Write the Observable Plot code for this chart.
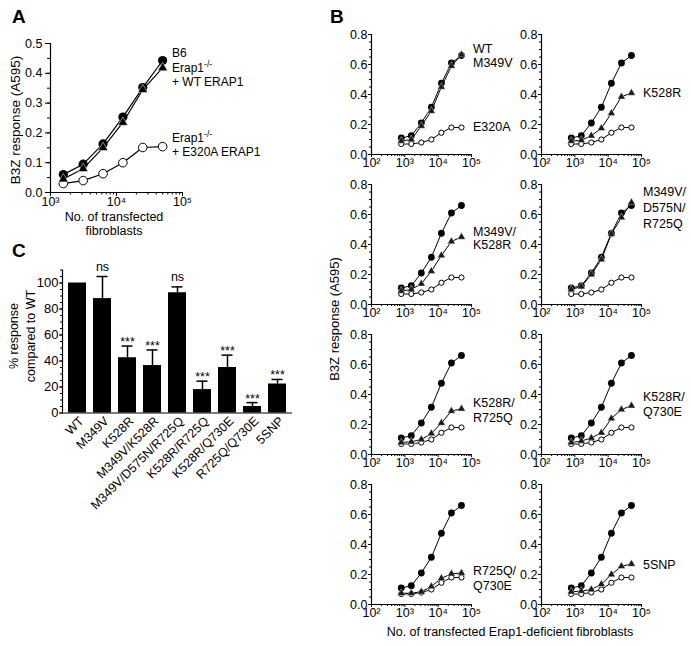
<!DOCTYPE html>
<html><head><meta charset="utf-8">
<script src="https://cdn.jsdelivr.net/npm/d3@7"></script>
<script src="https://cdn.jsdelivr.net/npm/@observablehq/plot@0.6"></script>
<style>
body{margin:0;background:#fff;}
#fig{position:relative;width:691px;height:646px;overflow:hidden;background:#fff;font-family:"Liberation Sans",Arial,Helvetica,sans-serif;}
#fig svg{overflow:visible;}
</style></head><body><div id="fig"></div>
<script>
// ---------- Panel A data ----------
const cellsA = [1563, 3125, 6250, 12500, 25000, 50000];
const b6A = [0.06, 0.095, 0.163, 0.253, 0.352, 0.443];
const wtErapA = [0.045, 0.08, 0.15, 0.235, 0.345, 0.418];
const e320aErapA = [0.03, 0.04, 0.063, 0.1, 0.151, 0.154];
const ticksAy = [0, 0.1, 0.2, 0.3, 0.4, 0.5];
const ticksAx = [1e3, 1e4, 1e5];

// ---------- Panel B data ----------
const cellsB = [781, 1563, 3125, 6250, 12500, 25000, 50000];
const wtB = [0.11, 0.125, 0.21, 0.315, 0.475, 0.61, 0.66];
const e320aB = [0.07, 0.07, 0.08, 0.10, 0.145, 0.18, 0.18];
const m349vB = [0.09, 0.10, 0.19, 0.29, 0.45, 0.59, 0.665];
const k528rB = [0.09, 0.095, 0.125, 0.175, 0.275, 0.385, 0.41];
const m349vK528rB = [0.09, 0.10, 0.138, 0.222, 0.327, 0.42, 0.45];
const m349vD575nR725qB = [0.10, 0.12, 0.20, 0.30, 0.47, 0.58, 0.68];
const k528rR725qB = [0.08, 0.085, 0.10, 0.14, 0.21, 0.29, 0.305];
const k528rQ730eB = [0.08, 0.09, 0.11, 0.145, 0.24, 0.30, 0.325];
const r725qQ730eB = [0.075, 0.075, 0.085, 0.12, 0.175, 0.205, 0.21];
const snp5B = [0.085, 0.09, 0.10, 0.135, 0.20, 0.255, 0.27];
const ticksBy = [0, 0.2, 0.4, 0.6, 0.8];
const ticksBx = [1e2, 1e3, 1e4, 1e5];

// ---------- Panel C data ----------
const mutants = ["WT", "M349V", "K528R", "M349V/K528R", "M349V/D575N/R725Q", "K528R/R725Q", "K528R/Q730E", "R725Q/Q730E", "5SNP"];
const pctResponse = [100, 88, 42.5, 36.5, 92.5, 18, 35, 5, 22.3];
const pctError = [0, 17, 9, 12, 4.5, 6.5, 9.5, 3, 3.5];
const significance = ["", "ns", "***", "***", "ns", "***", "***", "***", "***"];
const ticksCy = [0, 20, 40, 60, 80, 100];

// ---------- helpers ----------
const FONT = '"Liberation Sans", Arial, Helvetica, sans-serif';
const fig = document.getElementById("fig");
const supDigits = {"2": "\u00B2", "3": "\u00B3", "4": "\u2074", "5": "\u2075"};
const logFmt = d => "10" + supDigits[String(Math.round(Math.log10(d)))];
const blank = () => "";
function logMinor(lo, hi) { const t = []; for (let e = lo; e < hi; e++) for (let k = 2; k <= 9; k++) t.push(k * Math.pow(10, e)); return t; }
function linMinor(lo, hi, step) { const t = []; for (let v = lo; v <= hi + 1e-9; v += step) t.push(+v.toFixed(4)); return t; }
function place(el, left, top) { el.style.position = "absolute"; el.style.left = left + "px"; el.style.top = top + "px"; fig.appendChild(el); }
const baseStyle = {fontFamily: FONT, fontSize: "12px", color: "#000", background: "transparent", overflow: "visible"};

// ---------- Panel A ----------
const rowsA = cellsA.flatMap((c, i) => [
  {cells: c, resp: b6A[i], series: "B6"},
  {cells: c, resp: wtErapA[i], series: "WT"},
  {cells: c, resp: e320aErapA[i], series: "E320A"}
]);
const plotA = Plot.plot({
  width: 230, height: 240, marginLeft: 50, marginRight: 48, marginTop: 43, marginBottom: 48,
  style: baseStyle,
  x: {type: "log", domain: [1e3, 1e5]},
  y: {domain: [0, 0.5]},
  marks: [
    Plot.ruleY([0], {strokeWidth: 1.2}),
    Plot.ruleX([1e3], {strokeWidth: 1.2}),
    Plot.axisY(ticksAy, {tickSize: 5, tickPadding: 3, tickFormat: d3.format(".1f"), fontSize: 12.5, label: null}),
    Plot.axisY(linMinor(0, 0.5, 0.05), {tickSize: 3, tickFormat: blank, label: null}),
    Plot.axisX(ticksAx, {tickSize: 4, tickPadding: 1, tickFormat: logFmt, fontSize: 12.5, label: null}),
    Plot.axisX(logMinor(3, 5), {tickSize: 2.5, tickFormat: blank, label: null}),
    Plot.line(rowsA, {x: "cells", y: "resp", z: "series", stroke: "#000", strokeWidth: 1.2}),
    Plot.dot(rowsA.filter(d => d.series === "E320A"), {x: "cells", y: "resp", r: 4.3, fill: "#fff", stroke: "#000", strokeWidth: 1}),
    Plot.dot(rowsA.filter(d => d.series === "B6"), {x: "cells", y: "resp", r: 4.6, fill: "#000"}),
    Plot.dot(rowsA.filter(d => d.series === "WT"), {x: "cells", y: "resp", r: 3.6, symbol: "triangle", fill: "#000", stroke: "#fff", strokeWidth: 0.5})
  ]
});
place(plotA, 0, 0);

// ---------- Panel B ----------
function panelB(variant, left, top) {
  const rows = cellsB.flatMap((c, i) => [
    {cells: c, resp: wtB[i], series: "WT"},
    {cells: c, resp: e320aB[i], series: "E320A"},
    {cells: c, resp: variant[i], series: "variant"}
  ]);
  const p = Plot.plot({
    width: 160, height: 150, marginLeft: 40, marginRight: 20, marginTop: 10, marginBottom: 20,
    style: baseStyle,
    x: {type: "log", domain: [1e2, 1e5]},
    y: {domain: [0, 0.8]},
    marks: [
      Plot.ruleY([0], {strokeWidth: 1.2}),
      Plot.ruleX([1e2], {strokeWidth: 1.2}),
      Plot.axisY(ticksBy, {tickSize: 3, tickPadding: 1, tickFormat: d3.format(".1f"), fontSize: 12.5, label: null}),
      Plot.axisY(linMinor(0, 0.8, 0.05), {tickSize: 2, tickFormat: blank, label: null}),
      Plot.axisX(ticksBx, {tickSize: 3, tickPadding: 1, tickFormat: logFmt, fontSize: 12.5, label: null}),
      Plot.axisX(logMinor(2, 5), {tickSize: 2, tickFormat: blank, label: null}),
      Plot.line(rows, {x: "cells", y: "resp", z: "series", stroke: "#000", strokeWidth: 1}),
      Plot.dot(rows.filter(d => d.series === "E320A"), {x: "cells", y: "resp", r: 2.6, fill: "#fff", stroke: "#000", strokeWidth: 1}),
      Plot.dot(rows.filter(d => d.series === "WT"), {x: "cells", y: "resp", r: 3.4, fill: "#000"}),
      Plot.dot(rows.filter(d => d.series === "variant"), {x: "cells", y: "resp", r: 2.9, symbol: "triangle", fill: "#1a1a1a", stroke: "#fff", strokeWidth: 0.4})
    ]
  });
  place(p, left - 40, top - 10);
}
panelB(m349vB, 371, 34);
panelB(k528rB, 541, 34);
panelB(m349vK528rB, 371, 184);
panelB(m349vD575nR725qB, 541, 184);
panelB(k528rR725qB, 371, 334);
panelB(k528rQ730eB, 541, 334);
panelB(r725qQ730eB, 371, 484);
panelB(snp5B, 541, 484);

// ---------- Panel C ----------
const rowsC = mutants.map((m, i) => ({mutant: m, pct: pctResponse[i], hi: pctResponse[i] + pctError[i], sig: significance[i]}));
const errC = rowsC.filter(d => d.hi > d.pct);
const plotC = Plot.plot({
  width: 300, height: 396, marginLeft: 62, marginRight: 8, marginTop: 19.5, marginBottom: 233.5,
  style: baseStyle,
  x: {type: "band", domain: mutants, paddingInner: 0.3, paddingOuter: 0.12},
  y: {domain: [0, 110]},
  marks: [
    Plot.barY(rowsC, {x: "mutant", y: "pct", fill: "#000"}),
    Plot.ruleX(errC, {x: "mutant", y1: "pct", y2: "hi", strokeWidth: 1.5}),
    Plot.tickY(errC, {x: "mutant", y: "hi", insetLeft: 3.5, insetRight: 3.5, strokeWidth: 1.5}),
    Plot.text(rowsC.filter(d => d.sig === "ns"), {x: "mutant", y: "hi", text: "sig", dy: -10, fontSize: 12.5}),
    Plot.text(rowsC.filter(d => d.sig === "***"), {x: "mutant", y: "hi", text: "sig", dy: -4, fontSize: 12.5}),
    Plot.ruleY([0], {strokeWidth: 1.2}),
    Plot.frame({anchor: "left", strokeWidth: 1.2}),
    Plot.axisY(ticksCy, {tickSize: 3, tickPadding: 1, fontSize: 13, label: null}),
    Plot.axisY(linMinor(0, 110, 5), {tickSize: 2, tickFormat: blank, label: null}),
    Plot.axisX({tickSize: 0, tickRotate: -45, tickPadding: 6, dx: 4, fontSize: 12.5, label: null})
  ]
});
place(plotC, 0, 250);

// ---------- Text overlay (panel letters, axis titles, annotations) ----------
const ov = d3.select(fig).append("svg")
  .attr("width", 691).attr("height", 646)
  .style("position", "absolute").style("left", "0px").style("top", "0px")
  .style("pointer-events", "none")
  .attr("font-family", FONT).attr("fill", "#000");
function txt(x, y, s, size, opts = {}) {
  const t = ov.append("text").attr("x", x).attr("y", y).attr("font-size", size).text(s);
  if (opts.anchor) t.attr("text-anchor", opts.anchor);
  if (opts.bold) t.attr("font-weight", "bold");
  if (opts.rotate) t.attr("transform", `rotate(${opts.rotate},${x},${y})`);
  return t;
}
function erap(x, y, size) {
  const t = ov.append("text").attr("x", x).attr("y", y).attr("font-size", size);
  t.append("tspan").text("Erap1");
  t.append("tspan").attr("dy", -5).attr("font-size", size * 0.72).text("-/-");
}
// letters
txt(12, 23, "A", 19, {bold: true});
txt(330, 23, "B", 19, {bold: true});
txt(12, 257, "C", 19, {bold: true});
// panel A
txt(20, 120, "B3Z response (A595)", 13.5, {anchor: "middle", rotate: -90});
txt(114, 220.5, "No. of transfected", 12.5, {anchor: "middle"});
txt(114, 234.5, "fibroblasts", 12.5, {anchor: "middle"});
txt(172, 57, "B6", 12);
erap(172, 71.5, 12);
txt(172, 85.5, "+ WT ERAP1", 12);
erap(172, 141.5, 12);
txt(172, 155.5, "+ E320A ERAP1", 12);
// panel C
txt(18, 336, "% response", 12.5, {anchor: "middle", rotate: -90});
txt(35, 336, "compared to WT", 12.5, {anchor: "middle", rotate: -90});
// panel B
txt(339, 319, "B3Z response (A595)", 13, {anchor: "middle", rotate: -90});
txt(510, 636, "No. of transfected Erap1-deficient fibroblasts", 12.5, {anchor: "middle"});
const bLabels = [
  [473, 53.3, "WT"], [473, 66.7, "M349V"], [473, 130.7, "E320A"],
  [643, 96.7, "K528R"],
  [473, 236, "M349V/"], [473, 249, "K528R"],
  [643, 196, "M349V/"], [643, 212, "D575N/"], [643, 227.5, "R725Q"],
  [473, 406.7, "K528R/"], [473, 421.7, "R725Q"],
  [643, 400.7, "K528R/"], [643, 416, "Q730E"],
  [473, 575, "R725Q/"], [473, 589.5, "Q730E"],
  [643, 569.3, "5SNP"]
];
bLabels.forEach(([x, y, s]) => txt(x, y, s, 12.5));
</script></body></html>
